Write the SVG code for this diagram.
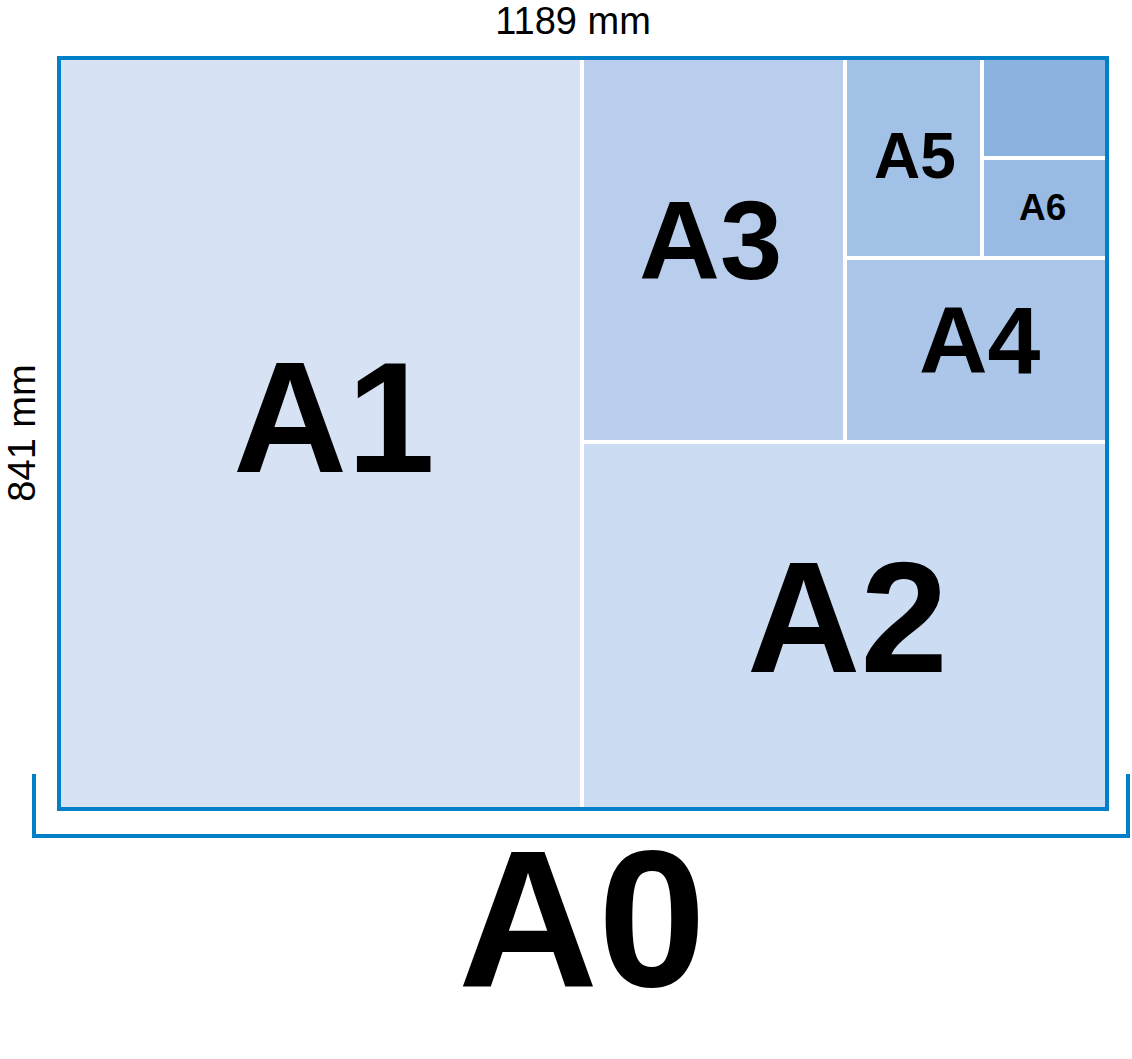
<svg xmlns="http://www.w3.org/2000/svg" width="1132" height="1059" viewBox="0 0 1132 1059">
<style>
.lbl{font-family:"Liberation Sans",Arial,sans-serif;font-weight:bold;fill:#000}
.dim{font-family:"Liberation Sans",Arial,sans-serif;font-size:38px;fill:#000}
.div{stroke:#fff;stroke-width:4;fill:none}
.blue{stroke:#0080C6;stroke-width:4;fill:none}
</style>
<rect width="1132" height="1059" fill="#fff"/>
<g id="A1"><rect x="59" y="58" width="523" height="751" fill="#D7E2F4"/><text class="lbl" x="233" y="472" font-size="158">A1</text></g>
<g id="A2"><rect x="582" y="442" width="525" height="367" fill="#CCDCF2"/><text class="lbl" x="747" y="672" font-size="157">A2</text></g>
<g id="A3"><rect x="582" y="58" width="263" height="384" fill="#B8CEEC"/><text class="lbl" x="639" y="279" font-size="112">A3</text></g>
<g id="A4"><rect x="845" y="258" width="262" height="184" fill="#ACC6EA"/><text class="lbl" x="919" y="373" font-size="95">A4</text></g>
<g id="A5"><rect x="845" y="58" width="137" height="200" fill="#A2C1E6"/><text class="lbl" x="874" y="178" font-size="64">A5</text></g>
<g id="A6"><rect x="982" y="158" width="125" height="100" fill="#98BAE3"/><text class="lbl" x="1019" y="220" font-size="37">A6</text></g>
<g id="A7"><rect x="982" y="58" width="125" height="100" fill="#8AB3E0"/></g>
<g id="dividers">
<line class="div" x1="582" y1="60" x2="582" y2="807"/>
<line class="div" x1="582" y1="442" x2="1108" y2="442"/>
<line class="div" x1="845" y1="60" x2="845" y2="442"/>
<line class="div" x1="845" y1="258" x2="1108" y2="258"/>
<line class="div" x1="982" y1="60" x2="982" y2="258"/>
<line class="div" x1="982" y1="158" x2="1108" y2="158"/>
</g>
<g id="A0">
<rect class="blue" x="59" y="58" width="1048" height="751"/>
<path class="blue" d="M34,774 V836 H1128 V774"/>
<text class="lbl" x="458" y="986" font-size="194">A0</text>
</g>
<g id="dimensions">
<text class="dim" x="573" y="34" text-anchor="middle">1189 mm</text>
<text class="dim" transform="translate(35,433) rotate(-90)" text-anchor="middle">841 mm</text>
</g>
</svg>
